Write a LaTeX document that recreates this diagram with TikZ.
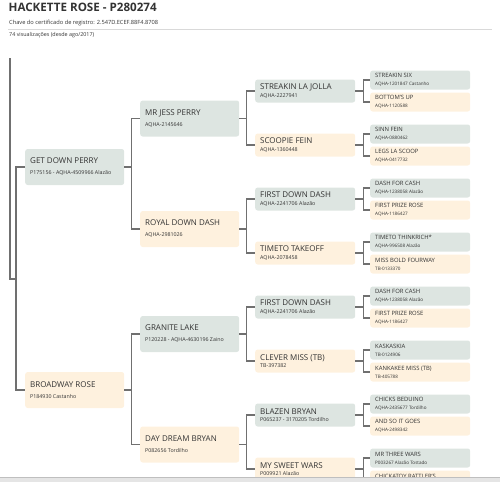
\documentclass[tikz,border=0pt]{standalone}
\usepackage{fontspec}
\setmainfont{Open Sans}
\usetikzlibrary{calc}

\definecolor{sirebox}{HTML}{DDE5E1}
\definecolor{dambox}{HTML}{FEF1DE}
\definecolor{linkgray}{HTML}{707070}
\definecolor{textgray}{HTML}{333333}

\newcommand{\hname}{\fontsize{8}{9}\selectfont}
\newcommand{\hreg}{\fontsize{5.3}{6.5}\selectfont}
\newcommand{\hnamesm}{\fontsize{5.9}{7}\selectfont}
\newcommand{\hregsm}{\fontsize{4.6}{5.5}\selectfont}
% name over registration, #1 = distance of the baselines
\newcommand{\bigtag}[3]{\noindent\vbox{\baselineskip=#1\lineskiplimit=-20pt\hbox{\hname #2}\hbox{\hreg #3}}}
\newcommand{\smalltag}[2]{\noindent\vbox{\baselineskip=8pt\lineskiplimit=-20pt\hbox{\hnamesm #1}\hbox{\hregsm #2}}}

\tikzset{
  horse/.style={rounded corners=2.5pt, inner xsep=5pt, inner ysep=0pt, align=flush left, anchor=west, text=textgray},
  sire/.style={horse, fill=sirebox},
  dam/.style={horse, fill=dambox},
  gen12/.style={text width=89pt, minimum height=36pt},
  gen3/.style={text width=90pt, minimum height=23pt},
  gen4/.style={text width=90pt, minimum height=19pt},
  link/.style={draw=linkgray, line width=1.2pt},
}

\begin{document}
\begin{tikzpicture}[x=1pt,y=-1pt]
\useasboundingbox (0,0) rectangle (500,482);

% header
\node[anchor=base west, inner sep=0, text=textgray, font=\fontsize{11.6}{13}\selectfont\bfseries] (title) at (8.5,11) {HACKETTE ROSE - P280274};
\node[anchor=base west, inner sep=0, text=textgray, font=\fontsize{5.7}{7}\selectfont] (chave) at (9,24.5) {Chave do certificado de registro: 2.547D.ECEF.88F4.8708};
\node[anchor=base west, inner sep=0, text=textgray, font=\fontsize{5.4}{6}\selectfont] (views) at (9,36) {74 visualizações (desde ago/2017)};
\draw[black!15, line width=0.6pt] (8,29) -- (492,29);

\begin{scope}
\clip (0,0) rectangle (500,477);

% generation 1
\node[sire,gen12] (gdp) at (25,167) {\bigtag{11pt}{GET DOWN PERRY}{P175156 - AQHA-4509966 Alazão}};
\node[dam,gen12] (bwr) at (25,390) {\bigtag{11pt}{BROADWAY ROSE}{P184930 Castanho}};

% generation 2
\node[sire,gen12] (mjp) at (140,118.5) {\bigtag{11pt}{MR JESS PERRY}{AQHA-2145646}};
\node[dam,gen12] (rdd) at (140,229) {\bigtag{11pt}{ROYAL DOWN DASH}{AQHA-2981026}};
\node[sire,gen12] (grl) at (140,334) {\bigtag{11pt}{GRANITE LAKE}{P120228 - AQHA-4630196 Zaino}};
\node[dam,gen12] (ddb) at (140,444.5) {\bigtag{11pt}{DAY DREAM BRYAN}{P082656 Tordilho}};

% generation 3
\node[sire,gen3] (slj) at (255,91) {\bigtag{7.5pt}{STREAKIN LA JOLLA}{AQHA-2227941}};
\node[dam,gen3] (scf) at (255,145) {\bigtag{7.5pt}{SCOOPIE FEIN}{AQHA-1360448}};
\node[sire,gen3] (fdd) at (255,199) {\bigtag{7.5pt}{FIRST DOWN DASH}{AQHA-2241706 Alazão}};
\node[dam,gen3] (ttk) at (255,253) {\bigtag{7.5pt}{TIMETO TAKEOFF}{AQHA-2078458}};
\node[sire,gen3] (fdd2) at (255,307) {\bigtag{7.5pt}{FIRST DOWN DASH}{AQHA-2241706 Alazão}};
\node[dam,gen3] (clm) at (255,361) {\bigtag{7.5pt}{CLEVER MISS (TB)}{TB-397382}};
\node[sire,gen3] (blb) at (255,415) {\bigtag{7.5pt}{BLAZEN BRYAN}{P065237 - 3170205 Tordilho}};
\node[dam,gen3] (msw) at (255,469) {\bigtag{7.5pt}{MY SWEET WARS}{P009921 Alazão}};

% generation 4
\node[sire,gen4] (sts) at (370,80) {\smalltag{STREAKIN SIX}{AQHA-1201847 Castanho}};
\node[dam,gen4] (btu) at (370,102) {\smalltag{BOTTOM'S UP}{AQHA-1120588}};
\node[sire,gen4] (snf) at (370,134) {\smalltag{SINN FEIN}{AQHA-0880462}};
\node[dam,gen4] (lls) at (370,156) {\smalltag{LEGS LA SCOOP}{AQHA-0417732}};
\node[sire,gen4] (dfc) at (370,188) {\smalltag{DASH FOR CASH}{AQHA-1238058 Alazão}};
\node[dam,gen4] (fpr) at (370,210) {\smalltag{FIRST PRIZE ROSE}{AQHA-1186427}};
\node[sire,gen4] (ttr) at (370,242) {\smalltag{TIMETO THINKRICH*}{AQHA-996508 Alazão}};
\node[dam,gen4] (mbf) at (370,264) {\smalltag{MISS BOLD FOURWAY}{TB-0133370}};
\node[sire,gen4] (dfc2) at (370,296) {\smalltag{DASH FOR CASH}{AQHA-1238058 Alazão}};
\node[dam,gen4] (fpr2) at (370,318) {\smalltag{FIRST PRIZE ROSE}{AQHA-1186427}};
\node[sire,gen4] (ksk) at (370,350) {\smalltag{KASKASKIA}{TB-0124906}};
\node[dam,gen4] (kkm) at (370,372) {\smalltag{KANKAKEE MISS (TB)}{TB-405788}};
\node[sire,gen4] (cbd) at (370,404) {\smalltag{CHICKS BEDUINO}{AQHA-2435677 Tordilho}};
\node[dam,gen4] (asg) at (370,426) {\smalltag{AND SO IT GOES}{AQHA-2498342}};
\node[sire,gen4] (mtw) at (370,458) {\smalltag{MR THREE WARS}{P003267 Alazão Tostado}};
\node[dam,gen4] (crt) at (370,480) {\smalltag{CHICKATOY RATTLER'S}{~}};

% connectors
\coordinate (rtop) at (10,58);
\coordinate (rjoin) at (16,279);
\draw[link] (rtop) |- (rjoin);
\draw[link] (gdp.west) -- ++(-9,0) |- (bwr.west);

\draw[link] (gdp.east) -- ++(7,0) |- (mjp.west);
\draw[link] (gdp.east) -- ++(7,0) |- (rdd.west);
\draw[link] (bwr.east) -- ++(7,0) |- (grl.west);
\draw[link] (bwr.east) -- ++(7,0) |- (ddb.west);

\draw[link] (mjp.east) -- ++(7,0) |- (slj.west);
\draw[link] (mjp.east) -- ++(7,0) |- (scf.west);
\draw[link] (rdd.east) -- ++(7,0) |- (fdd.west);
\draw[link] (rdd.east) -- ++(7,0) |- (ttk.west);
\draw[link] (grl.east) -- ++(7,0) |- (fdd2.west);
\draw[link] (grl.east) -- ++(7,0) |- (clm.west);
\draw[link] (ddb.east) -- ++(7,0) |- (blb.west);
\draw[link] (ddb.east) -- ++(7,0) |- (msw.west);

\draw[link] (slj.east) -- ++(8,0) |- (sts.west);
\draw[link] (slj.east) -- ++(8,0) |- (btu.west);
\draw[link] (scf.east) -- ++(8,0) |- (snf.west);
\draw[link] (scf.east) -- ++(8,0) |- (lls.west);
\draw[link] (fdd.east) -- ++(8,0) |- (dfc.west);
\draw[link] (fdd.east) -- ++(8,0) |- (fpr.west);
\draw[link] (ttk.east) -- ++(8,0) |- (ttr.west);
\draw[link] (ttk.east) -- ++(8,0) |- (mbf.west);
\draw[link] (fdd2.east) -- ++(8,0) |- (dfc2.west);
\draw[link] (fdd2.east) -- ++(8,0) |- (fpr2.west);
\draw[link] (clm.east) -- ++(8,0) |- (ksk.west);
\draw[link] (clm.east) -- ++(8,0) |- (kkm.west);
\draw[link] (blb.east) -- ++(8,0) |- (cbd.west);
\draw[link] (blb.east) -- ++(8,0) |- (asg.west);
\draw[link] (msw.east) -- ++(8,0) |- (mtw.west);
\draw[link] (msw.east) -- ++(8,0) |- (crt.west);
\end{scope}

% scroll bar at the bottom
\fill[black!10] (0,477) rectangle (500,482);
\draw[black!25, line width=0.5pt] (0,477) -- (500,477);
\end{tikzpicture}
\end{document}
